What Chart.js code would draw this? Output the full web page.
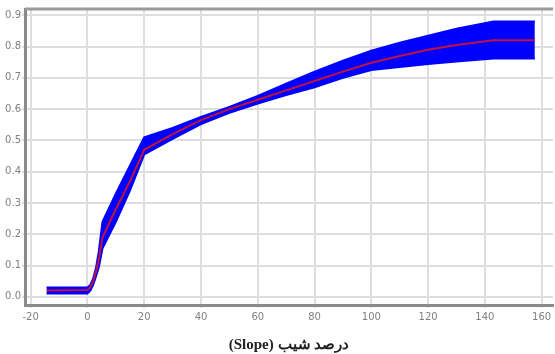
<!DOCTYPE html>
<html>
<head>
<meta charset="utf-8">
<script src="https://cdn.jsdelivr.net/npm/chart.js@4/dist/chart.umd.min.js"></script>
<style>
  html, body { margin: 0; padding: 0; background: #fff; }
  #wrap { width: 555px; height: 354px; }
</style>
</head>
<body>
<div id="wrap"><canvas id="chart" width="555" height="354"></canvas></div>
<script>
// slope (%) sample points
const slope = [-14.4, 0, 1, 2, 3, 4, 5.3, 10, 15, 20, 30, 40, 50, 60, 70, 80, 90, 100, 110, 120, 130, 143, 157.6];
const meanVal = [0.02, 0.022, 0.03, 0.05, 0.08, 0.12, 0.19, 0.28, 0.37, 0.47, 0.52, 0.565, 0.60, 0.63, 0.66, 0.69, 0.72, 0.748, 0.77, 0.79, 0.805, 0.82, 0.82];
const upperVal = [0.03, 0.03, 0.038, 0.058, 0.092, 0.145, 0.24, 0.33, 0.42, 0.51, 0.54, 0.575, 0.607, 0.642, 0.681, 0.72, 0.755, 0.787, 0.812, 0.835, 0.857, 0.88, 0.88];
const lowerVal = [0.011, 0.011, 0.02, 0.038, 0.065, 0.095, 0.155, 0.24, 0.34, 0.455, 0.505, 0.552, 0.588, 0.618, 0.645, 0.67, 0.70, 0.725, 0.735, 0.744, 0.752, 0.762, 0.762];
const xTicks = [-20, 0, 20, 40, 60, 80, 100, 120, 140, 160];
const yTicks = [0, 0.1, 0.2, 0.3, 0.4, 0.5, 0.6, 0.7, 0.8, 0.9];
const xTitle = '\u202Bدرصد شیب (Slope)\u202C';

const pts = vals => slope.map((x, i) => ({ x: x, y: vals[i] }));

// top frame line
const frame = {
  id: 'frame',
  afterDraw(chart) {
    const { ctx, chartArea: a } = chart;
    ctx.save();
    ctx.strokeStyle = '#9a9a9a';
    ctx.lineWidth = 3;
    ctx.beginPath();
    ctx.moveTo(a.left, a.top);
    ctx.lineTo(a.right, a.top);
    ctx.stroke();
    ctx.restore();
  }
};

new Chart(document.getElementById('chart'), {
  type: 'line',
  data: {
    datasets: [
      {
        data: pts(lowerVal),
        borderColor: '#0000ff',
        borderWidth: 2,
        backgroundColor: '#0000ff',
        pointRadius: 0,
        fill: false,
        order: 2
      },
      {
        data: pts(upperVal),
        borderColor: '#0000ff',
        borderWidth: 2,
        backgroundColor: '#0000ff',
        pointRadius: 0,
        fill: '-1',
        order: 2
      },
      {
        data: pts(meanVal),
        borderColor: '#c0123e',
        borderWidth: 2,
        pointRadius: 0,
        fill: false,
        order: 1
      }
    ]
  },
  options: {
    responsive: false,
    animation: false,
    layout: { padding: { top: 9, right: 2, left: 0, bottom: 0 } },
    plugins: { legend: { display: false }, tooltip: { enabled: false } },
    scales: {
      x: {
        type: 'linear',
        min: -22,
        max: 164,
        afterBuildTicks: s => { s.ticks = xTicks.map(v => ({ value: v })); },
        afterFit: s => { s.height = 49; },
        grid: { color: '#dedede', lineWidth: 2, tickLength: 3, drawTicks: true },
        border: { color: '#8a8a8a', width: 3 },
        ticks: { color: '#808080', font: { family: 'DejaVu Sans', size: 10 }, padding: 3, maxRotation: 0 },
        title: {
          display: true,
          text: xTitle,
          color: '#222',
          font: { family: 'Liberation Serif', size: 15, weight: 'bold' },
          padding: { top: 4, bottom: 0 }
        }
      },
      y: {
        min: -0.026,
        max: 0.92,
        afterBuildTicks: s => { s.ticks = yTicks.map(v => ({ value: v })); },
        afterFit: s => { s.width = 25; },
        grid: { color: '#dedede', lineWidth: 2, tickLength: 3 },
        border: { color: '#8a8a8a', width: 3 },
        ticks: {
          color: '#808080',
          font: { family: 'DejaVu Sans', size: 10 },
          padding: 1,
          callback: v => v.toFixed(1)
        }
      }
    }
  },
  plugins: [frame]
});
</script>
</body>
</html>
